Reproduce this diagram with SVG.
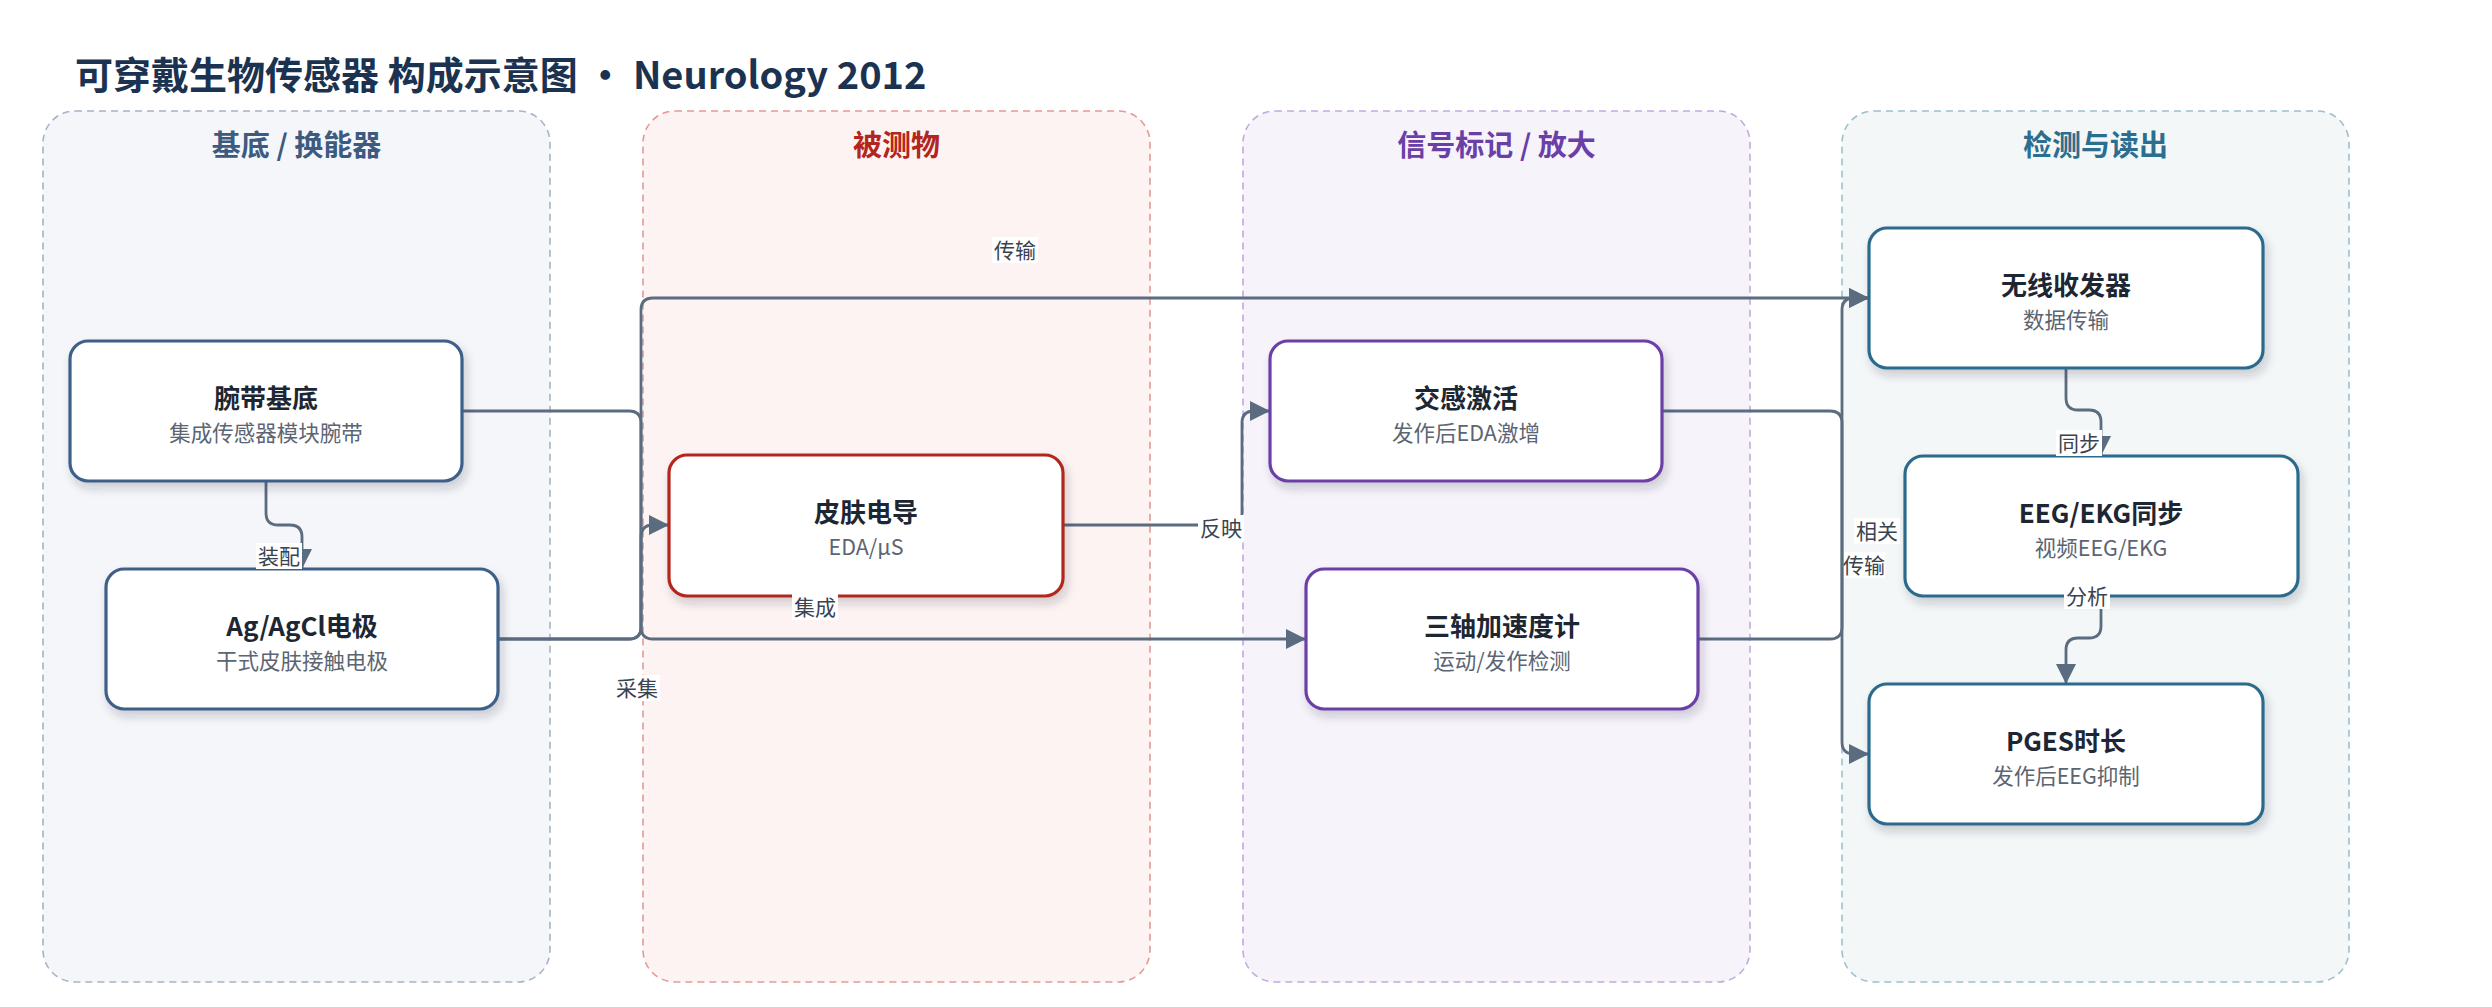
<svg xmlns="http://www.w3.org/2000/svg" width="2492" height="1007" viewBox="0 0 2492 1007">
<defs>
<style>
text{font-family:"Noto Sans CJK SC","Noto Sans",sans-serif}
.title{font-size:38px;font-weight:700;fill:#1b3350}
.lane{stroke-width:1.6;stroke-dasharray:7 5}
.lt{font-size:29px;font-weight:700;text-anchor:middle}
.node{fill:#fff;stroke-width:3.2;filter:url(#sh)}
.nt{font-size:26px;font-weight:700;fill:#1d2733;text-anchor:middle}
.ns{font-size:21.5px;fill:#5b6573;text-anchor:middle}
.edge{fill:none;stroke:#5b6b80;stroke-width:2.8;marker-end:url(#arr)}
.lb{fill:#fff}
.lbt{font-size:21px;fill:#3a4350;text-anchor:middle}
</style>
<marker id="arr" markerUnits="userSpaceOnUse" markerWidth="20" markerHeight="20" viewBox="0 0 20 20" refX="20" refY="10" orient="auto">
<path d="M0,0 L20,10 L0,20 Z" fill="#5b6b80"/>
</marker>
<filter id="sh" x="-10%" y="-15%" width="125%" height="140%">
<feDropShadow dx="3" dy="6" stdDeviation="5" flood-color="#1a2030" flood-opacity="0.2"/>
</filter>
</defs>
<rect width="2492" height="1007" fill="#fff"/>
<text class="title" x="75" y="89">可穿戴生物传感器 构成示意图 · Neurology 2012</text>

<g id="lane-substrate">
<rect class="lane" x="43" y="111" width="507" height="871" rx="32" fill="#f4f6fa" stroke="#a4b4c9"/>
<text class="lt" x="296.5" y="156" fill="#3d5a80">基底 / 换能器</text>
</g>
<g id="lane-analyte">
<rect class="lane" x="643" y="111" width="507" height="871" rx="32" fill="#fdf3f2" stroke="#e49a94"/>
<text class="lt" x="896.5" y="156" fill="#b3261e">被测物</text>
</g>
<g id="lane-signal">
<rect class="lane" x="1243" y="111" width="507" height="871" rx="32" fill="#f6f3fb" stroke="#c4a9de"/>
<text class="lt" x="1496.5" y="156" fill="#6a3fa6">信号标记 / 放大</text>
</g>
<g id="lane-readout">
<rect class="lane" x="1842" y="111" width="507" height="871" rx="32" fill="#f3f7f8" stroke="#9dc0cd"/>
<text class="lt" x="2095.5" y="156" fill="#2c6e8f">检测与读出</text>
</g>

<g id="connectors">
<path class="edge" d="M266,482 V513 Q266,525 278,525 H290 Q302,525 302,537 V569"/>
<path class="edge" d="M498,639 H629 Q641,639 641,627 V537 Q641,525 653,525 H669"/>
<path class="edge" d="M462,411 H629 Q641,411 641,423 V627 Q641,639 653,639 H1306"/>
<path class="edge" d="M498,639 H629 Q641,639 641,627 V310 Q641,298 653,298 H1869"/>
<path class="edge" d="M1063,525 H1230 Q1242,525 1242,513 V423 Q1242,411 1254,411 H1270"/>
<path class="edge" d="M1662,411 H1830 Q1842,411 1842,423 V742 Q1842,754 1854,754 H1869"/>
<path class="edge" d="M1698,639 H1830 Q1842,639 1842,627 V310 Q1842,298 1854,298 H1869"/>
<path class="edge" d="M2066,368 V398 Q2066,410 2078,410 H2089 Q2101,410 2101,422 V456"/>
<path class="edge" d="M2101,596 V626 Q2101,638 2089,638 H2078 Q2066,638 2066,650 V684"/>
</g>

<g id="n-wristband">
<rect class="node" x="70" y="341" width="392" height="140" rx="18" stroke="#3d5f88"/>
<text class="nt" x="266" y="408">腕带基底</text>
<text class="ns" x="266" y="441">集成传感器模块腕带</text>
</g>
<g id="n-electrode">
<rect class="node" x="106" y="569" width="392" height="140" rx="18" stroke="#3d5f88"/>
<text class="nt" x="302" y="636">Ag/AgCl电极</text>
<text class="ns" x="302" y="669">干式皮肤接触电极</text>
</g>
<g id="n-eda">
<rect class="node" x="669" y="455" width="394" height="141" rx="18" stroke="#b3261e"/>
<text class="nt" x="866" y="522">皮肤电导</text>
<text class="ns" x="866" y="555">EDA/μS</text>
</g>
<g id="n-sympathetic">
<rect class="node" x="1270" y="341" width="392" height="140" rx="18" stroke="#6b3fa6"/>
<text class="nt" x="1466" y="408">交感激活</text>
<text class="ns" x="1466" y="441">发作后EDA激增</text>
</g>
<g id="n-accel">
<rect class="node" x="1306" y="569" width="392" height="140" rx="18" stroke="#6b3fa6"/>
<text class="nt" x="1502" y="636">三轴加速度计</text>
<text class="ns" x="1502" y="669">运动/发作检测</text>
</g>
<g id="n-wireless">
<rect class="node" x="1869" y="228" width="394" height="140" rx="18" stroke="#2c6b8c"/>
<text class="nt" x="2066" y="295">无线收发器</text>
<text class="ns" x="2066" y="328">数据传输</text>
</g>
<g id="n-eegekg">
<rect class="node" x="1905" y="456" width="393" height="140" rx="18" stroke="#2c6b8c"/>
<text class="nt" x="2101" y="523">EEG/EKG同步</text>
<text class="ns" x="2101" y="556">视频EEG/EKG</text>
</g>
<g id="n-pges">
<rect class="node" x="1869" y="684" width="394" height="140" rx="18" stroke="#2c6b8c"/>
<text class="nt" x="2066" y="751">PGES时长</text>
<text class="ns" x="2066" y="784">发作后EEG抑制</text>
</g>

<g id="edge-labels">
<rect class="lb" x="256" y="543" width="46" height="26"/><text class="lbt" x="279" y="563.5">装配</text>
<rect class="lb" x="614" y="675" width="46" height="26"/><text class="lbt" x="637" y="695.5">采集</text>
<rect class="lb" x="792" y="594" width="46" height="26"/><text class="lbt" x="815" y="614.5">集成</text>
<rect class="lb" x="992" y="237" width="46" height="26"/><text class="lbt" x="1015" y="257.5">传输</text>
<rect class="lb" x="1198" y="515" width="46" height="26"/><text class="lbt" x="1221" y="535.5">反映</text>
<rect class="lb" x="1854" y="518" width="46" height="26"/><text class="lbt" x="1877" y="538.5">相关</text>
<rect class="lb" x="1844" y="552" width="41" height="26"/><text class="lbt" x="1864" y="572.5">传输</text>
<rect class="lb" x="2056" y="430" width="46" height="26"/><text class="lbt" x="2079" y="450.5">同步</text>
<rect class="lb" x="2064" y="583" width="46" height="26"/><text class="lbt" x="2087" y="603.5">分析</text>
</g>
</svg>
